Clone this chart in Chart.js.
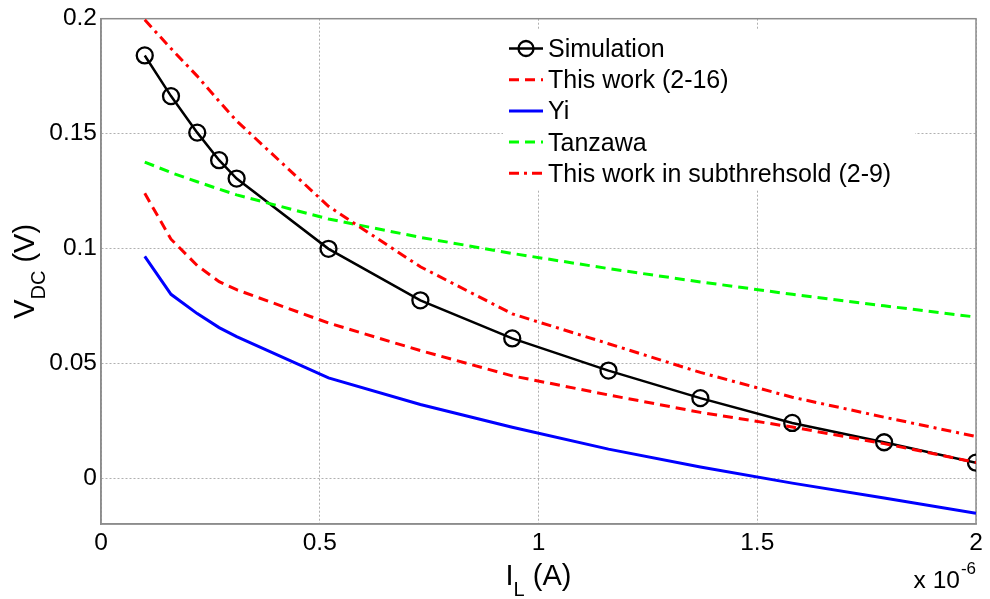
<!DOCTYPE html>
<html><head><meta charset="utf-8">
<script src="https://cdn.jsdelivr.net/npm/chart.js@4/dist/chart.umd.min.js"></script>
<style>html,body{margin:0;padding:0;background:#fff}canvas{display:block}</style>
</head><body>
<canvas id="c" width="990" height="599"></canvas>
<script>
// load current I_L in units of 1e-6 A
const current = [0.1, 0.16, 0.22, 0.27, 0.31, 0.52, 0.73, 0.94, 1.16, 1.37, 1.58, 1.79, 2.0];
const simulation   = [0.184, 0.1663, 0.1504, 0.1384, 0.1304, 0.0998, 0.0774, 0.0608, 0.0468, 0.0348, 0.0240, 0.0156, 0.0067];
const thisWork     = [0.124, 0.104, 0.0925, 0.0855, 0.082, 0.0675, 0.0555, 0.0445, 0.0362, 0.0286, 0.0222, 0.0150, 0.0068];
const yi           = [0.0965, 0.080, 0.0716, 0.0655, 0.0616, 0.0436, 0.032, 0.0221, 0.0126, 0.0048, -0.0022, -0.0087, -0.0153];
const tanzawa      = [0.1376, 0.133, 0.129, 0.1258, 0.1233, 0.1128, 0.1048, 0.0978, 0.0912, 0.0854, 0.080, 0.075, 0.0701];
const subthreshold = [0.1995, 0.187, 0.175, 0.164, 0.1555, 0.1183, 0.092, 0.0715, 0.0585, 0.046, 0.0352, 0.0265, 0.0181];
const seriesNames  = ['Simulation', 'This work (2-16)', 'Yi', 'Tanzawa', 'This work in subthrehsold (2-9)'];
const xTicks = [0, 0.5, 1, 1.5, 2];
const yTicks = [0, 0.05, 0.1, 0.15, 0.2];

const FONT = '"Liberation Sans", Arial, Helvetica, sans-serif';
const pts = ys => current.map((x, i) => ({x, y: ys[i]}));
const fmt = v => String(+(+v).toFixed(2));

const framePlugin = {
  id: 'frame',
  beforeDatasetsDraw(chart) {
    const {ctx, chartArea: a} = chart;
    ctx.save();
    ctx.strokeStyle = '#8c8c8c';
    ctx.lineWidth = 1.5;
    ctx.strokeRect(a.left, a.top, a.right - a.left, a.bottom - a.top);
    ctx.restore();
  }
};

const legendPlugin = {
  id: 'insideLegend',
  afterDatasetsDraw(chart) {
    const ctx = chart.ctx;
    ctx.save();
    ctx.fillStyle = '#fff';
    ctx.fillRect(503, 29, 412, 161);
    const ds = chart.data.datasets;
    seriesNames.forEach((name, i) => {
      const d = ds[i];
      const yc = 48.5 + 31.2 * i;
      ctx.save();
      ctx.strokeStyle = d.borderColor;
      ctx.lineWidth = d.borderWidth;
      ctx.setLineDash(d.borderDash || []);
      ctx.beginPath();
      ctx.moveTo(509, yc); ctx.lineTo(543, yc);
      ctx.stroke();
      ctx.setLineDash([]);
      if (d.pointRadius) {
        ctx.lineWidth = d.pointBorderWidth;
        ctx.beginPath();
        ctx.arc(526, yc, d.pointRadius - 0.5, 0, Math.PI * 2);
        ctx.stroke();
      }
      ctx.restore();
      ctx.fillStyle = '#000';
      ctx.font = '25px ' + FONT;
      ctx.textBaseline = 'alphabetic';
      ctx.textAlign = 'left';
      ctx.fillText(name, 548, yc + 8.5);
    });
    ctx.restore();
  }
};

const titlesPlugin = {
  id: 'titles',
  afterDraw(chart) {
    const {ctx, chartArea: a} = chart;
    ctx.save();
    ctx.fillStyle = '#000';
    ctx.textBaseline = 'alphabetic';
    ctx.textAlign = 'left';
    const mainF = '29px ' + FONT, subF = '20px ' + FONT;
    // x title: I_L (A)
    ctx.font = mainF; const w1 = ctx.measureText('I').width; const w3 = ctx.measureText(' (A)').width;
    ctx.font = subF; const w2 = ctx.measureText('L').width;
    let x = (a.left + a.right) / 2 - (w1 + w2 + w3) / 2;
    ctx.font = mainF; ctx.fillText('I', x, 585); x += w1;
    ctx.font = subF; ctx.fillText('L', x, 596); x += w2;
    ctx.font = mainF; ctx.fillText(' (A)', x, 585);
    // y title: V_DC (V)
    ctx.save();
    ctx.translate(34, (a.top + a.bottom) / 2);
    ctx.rotate(-Math.PI / 2);
    ctx.font = mainF; const v1 = ctx.measureText('V').width; const v3 = ctx.measureText(' (V)').width;
    ctx.font = subF; const v2 = ctx.measureText('DC').width;
    let lx = -(v1 + v2 + v3) / 2;
    ctx.font = mainF; ctx.fillText('V', lx, 0); lx += v1;
    ctx.font = subF; ctx.fillText('DC', lx, 11); lx += v2;
    ctx.font = mainF; ctx.fillText(' (V)', lx, 0);
    ctx.restore();
    // multiplier x 10^-6
    ctx.font = '17px ' + FONT; const s = ctx.measureText('-6').width;
    ctx.font = '24.5px ' + FONT; const m = ctx.measureText('x 10').width;
    const xe = a.right;
    ctx.fillText('x 10', xe - s - m - 1, 588);
    ctx.font = '17px ' + FONT;
    ctx.fillText('-6', xe - s, 574);
    ctx.restore();
  }
};

const gridOpts = {color: '#b0b0b0', lineWidth: 1, drawTicks: false};
const borderOpts = {display: true, color: '#8c8c8c', width: 1.5, dash: [2, 2]};
const tickFont = {family: FONT, size: 24.5};

new Chart(document.getElementById('c'), {
  type: 'line',
  data: {
    datasets: [
      {label: seriesNames[0], data: pts(simulation), borderColor: '#000', borderWidth: 2.5,
       pointRadius: 8, pointBorderWidth: 2.3, pointBorderColor: '#000', pointBackgroundColor: 'rgba(0,0,0,0)',
       pointStyle: 'circle', tension: 0, order: 5},
      {label: seriesNames[1], data: pts(thisWork), borderColor: '#ff0000', borderWidth: 3,
       borderDash: [10, 6], pointRadius: 0, tension: 0, order: 4},
      {label: seriesNames[2], data: pts(yi), borderColor: '#0000ff', borderWidth: 3,
       pointRadius: 0, tension: 0, order: 3},
      {label: seriesNames[3], data: pts(tanzawa), borderColor: '#00ff00', borderWidth: 3,
       borderDash: [10, 6], pointRadius: 0, tension: 0, order: 2},
      {label: seriesNames[4], data: pts(subthreshold), borderColor: '#ff0000', borderWidth: 3,
       borderDash: [10, 5, 3, 5], pointRadius: 0, tension: 0, order: 1}
    ]
  },
  options: {
    responsive: false,
    animation: false,
    events: [],
    layout: {padding: {left: 0, top: 18, right: 14, bottom: 0}},
    plugins: {legend: {display: false}, tooltip: {enabled: false}},
    scales: {
      x: {
        type: 'linear', min: 0, max: 2,
        afterBuildTicks: s => { s.ticks = xTicks.map(v => ({value: v})); },
        afterFit: s => { s.height = 75; },
        ticks: {callback: fmt, color: '#000', font: tickFont, padding: 5, maxRotation: 0, autoSkip: false},
        grid: gridOpts, border: borderOpts
      },
      y: {
        type: 'linear', min: -0.02, max: 0.2,
        afterBuildTicks: s => { s.ticks = yTicks.map(v => ({value: v})); },
        afterFit: s => { s.width = 101; },
        ticks: {callback: fmt, color: '#000', font: tickFont, padding: 4, autoSkip: false},
        grid: gridOpts, border: borderOpts
      }
    }
  },
  plugins: [framePlugin, legendPlugin, titlesPlugin]
});
</script>
</body></html>
